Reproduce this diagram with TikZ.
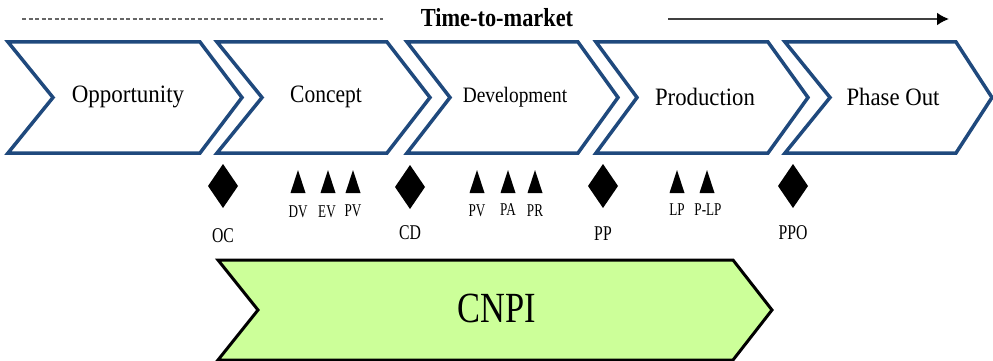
\documentclass[tikz,border=0pt]{standalone}
\usepackage{fontspec}
\setmainfont{Liberation Serif}
\usepackage{graphicx}
\usetikzlibrary{arrows.meta}
\definecolor{chevblue}{RGB}{31,73,125}
\definecolor{cnpigreen}{RGB}{204,255,153}
\newcommand{\sq}[3]{\scalebox{#1}[1]{\fontsize{#2}{#2}\selectfont #3}}
\newcommand{\chevpath}[4]{% L, R, tip, notch
  \draw[chevstroke] (#1,42) -- (#2,42) -- (#3,97.5) -- (#2,153) -- (#1,153) -- (#4,97.5) -- cycle;}
\newcommand{\diam}[2]{\fill (#1,#2-22) -- (#1+15,#2) -- (#1,#2+22) -- (#1-15,#2) -- cycle;}
\newcommand{\tri}[1]{\fill (#1,170) -- (#1+7.5,193) -- (#1-7.5,193) -- cycle;}
\tikzset{
  chevstroke/.style={draw=chevblue, line width=3.5pt, line join=miter},
  chevlabel/.style={inner sep=0pt, anchor=center},
  smalllabel/.style={inner sep=0pt, anchor=center},
}
\begin{document}
\begin{tikzpicture}[x=1pt,y=-1pt]
\useasboundingbox (0,0) rectangle (993,361);
\begin{scope}
\clip (0,0) rectangle (993,361);
% time-to-market header
\draw[black!60, line width=1.5pt, dash pattern=on 4pt off 2.5pt] (22,19) -- (383,19);
\node[inner sep=0pt] (ttm) at (497,18) {\sq{0.86}{26}{\bfseries Time-to-market}};
\coordinate (arrS) at (668,19);
\coordinate (arrE) at (949,19);
\draw[black!75, line width=2pt, -{Latex[length=12pt,width=13pt,black]}] (arrS) -- (arrE);
% chevrons
\chevpath{8}{200}{242}{53}
\chevpath{217}{387}{430}{262}
\chevpath{407}{578}{618}{450}
\chevpath{596}{768}{808}{637}
\chevpath{785}{956}{992}{830}
\node[chevlabel] (opp) at (128,97) {\sq{0.92}{25}{Opportunity}};
\node[chevlabel] (con) at (326,97) {\sq{0.86}{25}{Concept}};
\node[chevlabel] (dev) at (515,97) {\sq{0.88}{22}{Development}};
\node[chevlabel] (pro) at (705,97) {\sq{0.91}{25}{Production}};
\node[chevlabel] (pha) at (893,97) {\sq{0.91}{25}{Phase Out}};
% milestones
\diam{223}{186}
\diam{410}{187}
\diam{603}{186}
\diam{793}{186}
\node[smalllabel] (oc) at (223,236) {\sq{0.75}{21}{OC}};
\node[smalllabel] (cd) at (410,233) {\sq{0.75}{21}{CD}};
\node[smalllabel] (pp) at (603,234) {\sq{0.75}{21}{PP}};
\node[smalllabel] (ppo) at (793,233) {\sq{0.75}{21}{PPO}};
\tri{298}\tri{328}\tri{353}
\tri{477}\tri{508}\tri{535}
\tri{677}\tri{707}
\node[smalllabel] (dv) at (298,212) {\sq{0.73}{18}{DV}};
\node[smalllabel] (ev) at (327,212) {\sq{0.73}{18}{EV}};
\node[smalllabel] (pv1) at (353,211) {\sq{0.73}{18}{PV}};
\node[smalllabel] (pv2) at (477,211) {\sq{0.73}{18}{PV}};
\node[smalllabel] (pa) at (508,210) {\sq{0.73}{18}{PA}};
\node[smalllabel] (pr) at (535,211) {\sq{0.73}{18}{PR}};
\node[smalllabel] (lp) at (677,210) {\sq{0.73}{18}{LP}};
\node[smalllabel] (plp) at (708,210) {\sq{0.73}{18}{P-LP}};
% CNPI
\draw[fill=cnpigreen, draw=black, line width=3pt, line join=miter]
  (218,260) -- (733,260) -- (772,310) -- (733,360) -- (218,360) -- (258,310) -- cycle;
\node[inner sep=0pt] (cnpi) at (497,308) {\sq{0.8}{43}{CNPI}};
\end{scope}
\end{tikzpicture}
\end{document}
